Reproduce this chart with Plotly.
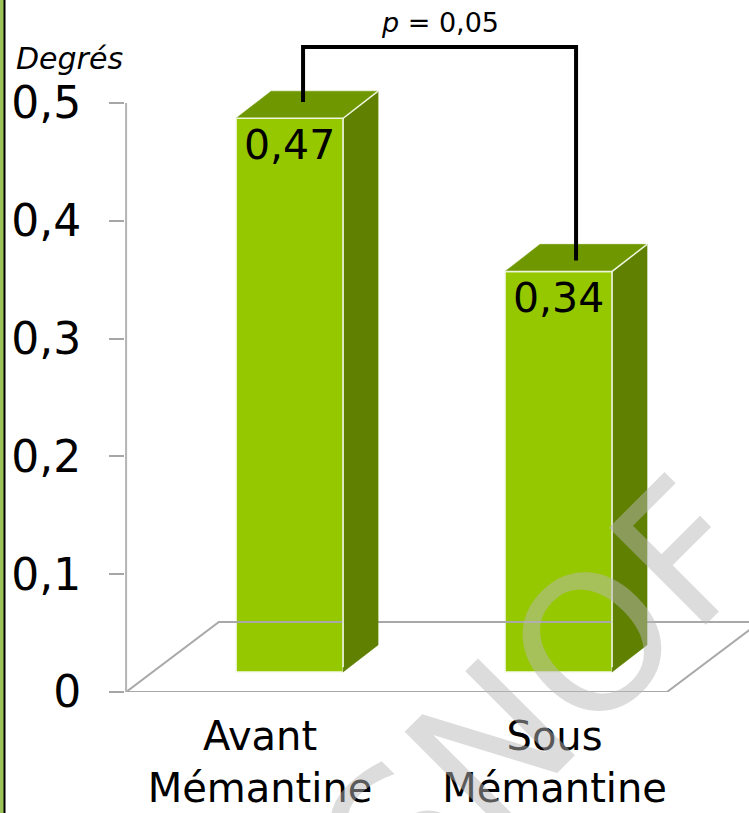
import plotly.graph_objects as go

# data
categories = ["Avant<br>Mémantine", "Sous<br>Mémantine"]
values = [0.47, 0.34]
value_labels = ["0,47", "0,34"]
y_ticks = [0, 0.1, 0.2, 0.3, 0.4, 0.5]
y_tick_labels = ["0", "0,1", "0,2", "0,3", "0,4", "0,5"]
p_label = "<i>p</i> = 0,05"
y_title = "<i>Degrés</i>"

# look of the fake 3D chart
FRONT = "#96c800"
TOP = "#6f9800"
SIDE = "#5f8000"
FLOOR = "#a8a8a8"
FONT = "DejaVu Sans"

BAR_W = 0.398      # front face width (x units)
BASE = 0.017       # bars sit slightly above the front floor edge
DDX, DDY = 0.13, 0.023       # bar depth
FDX, FDY = 0.345, 0.0594     # floor depth
X_MIN, X_MAX = -0.612, 1.708
Y_MAX = 0.5874
AX_X = -0.608

fig = go.Figure()

# floor parallelogram
fig.add_trace(go.Scatter(
    x=[AX_X, 1.403, 1.403 + FDX, AX_X + FDX, AX_X],
    y=[0, 0, FDY, FDY, 0],
    mode="lines", line=dict(color=FLOOR, width=2), hoverinfo="skip"))

# y axis line (stops at 0,5)
fig.add_trace(go.Scatter(
    x=[AX_X, AX_X], y=[0, y_ticks[-1]],
    mode="lines", line=dict(color="#b4b4b4", width=2), hoverinfo="skip"))

# front faces
fig.add_trace(go.Bar(
    x=list(range(len(values))), y=values, base=BASE, width=BAR_W,
    marker=dict(color=FRONT, line=dict(color="#f4f8e8", width=1.5)),
    text=value_labels, textposition="inside", insidetextanchor="end",
    textfont=dict(family=FONT, size=41, color="black"),
    textangle=0, hoverinfo="skip"))

# side and top faces
for i, v in enumerate(values):
    l, r = i - BAR_W / 2, i + BAR_W / 2
    top = BASE + v
    fig.add_trace(go.Scatter(
        x=[r, r, r + DDX, r + DDX, r], y=[BASE, top, top + DDY, BASE + DDY, BASE],
        mode="lines", fill="toself", fillcolor=SIDE,
        line=dict(color=SIDE, width=0.5), hoverinfo="skip"))
    fig.add_trace(go.Scatter(
        x=[l, r, r + DDX, l + DDX, l], y=[top, top, top + DDY, top + DDY, top],
        mode="lines", fill="toself", fillcolor=TOP,
        line=dict(color=TOP, width=0.5), hoverinfo="skip"))
    # light edge between front and side/top
    fig.add_trace(go.Scatter(
        x=[l, r, r + DDX], y=[top, top, top + DDY],
        mode="lines", line=dict(color="#eef5dc", width=1.5), hoverinfo="skip"))
    fig.add_trace(go.Scatter(
        x=[r, r], y=[BASE + 0.004, top],
        mode="lines", line=dict(color="#eef5dc", width=1.5), hoverinfo="skip"))

# significance bracket
BR_Y = 0.5475
y0 = BASE + values[0] + DDY * 0.6
y1 = BASE + values[1] + DDY * 0.4
fig.add_trace(go.Scatter(
    x=[0.05, 0.05, 1.065, 1.065], y=[y0, BR_Y, BR_Y, y1],
    mode="lines", line=dict(color="black", width=4), hoverinfo="skip"))

fig.add_annotation(x=0.5575, y=BR_Y, xref="x", yref="y", text=p_label,
                   showarrow=False, yanchor="bottom", yshift=7,
                   font=dict(family=FONT, size=27, color="black"))

fig.add_annotation(x=-0.178, y=0.538, xref="paper", yref="y", text=y_title,
                   showarrow=False, xanchor="left", yanchor="middle",
                   font=dict(family=FONT, size=30, color="black"))

# SNOF watermark (paper coords so it is not hidden below the axis range)
fig.add_annotation(x=(540 - 125) / 624, y=(692 - 697) / 692,
                   xref="paper", yref="paper", text="SNOF",
                   xanchor="center", yanchor="middle",
                   showarrow=False, textangle=-45,
                   font=dict(family=FONT, size=188, color="rgba(184,184,184,0.49)"))

# green frame on the left
fig.add_shape(type="rect", xref="paper", yref="paper",
              x0=-125 / 624, x1=-121 / 624, y0=-121 / 692, y1=1,
              fillcolor="#9bc35a", line_width=0, layer="above")
fig.add_shape(type="line", xref="paper", yref="paper",
              x0=-120.5 / 624, x1=-120.5 / 624, y0=-121 / 692, y1=1,
              line=dict(color="black", width=2), layer="above")

fig.update_layout(
    width=749, height=813,
    margin=dict(l=125, r=0, t=0, b=121),
    paper_bgcolor="white", plot_bgcolor="white",
    showlegend=False,
    xaxis=dict(range=[X_MIN, X_MAX], showgrid=False, zeroline=False,
               showline=False, ticks="", automargin=False,
               tickvals=[-0.11, 0.985], ticktext=categories,
               ticklabelstandoff=17,
               tickfont=dict(family=FONT, size=40, color="black")),
    yaxis=dict(range=[0, Y_MAX], showgrid=False, zeroline=False,
               showline=False, ticks="outside", ticklen=15, automargin=False,
               tickcolor="#a6a6a6", tickwidth=1.5,
               tickvals=y_ticks, ticktext=y_tick_labels,
               ticklabelstandoff=19,
               tickfont=dict(family=FONT, size=44, color="black")),
)

fig.write_html("out.html", config={"displayModeBar": False},
               post_script="document.body.style.margin='0';")
